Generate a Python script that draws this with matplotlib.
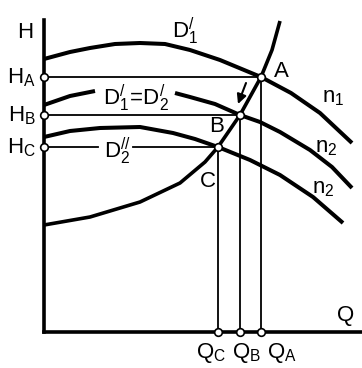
import numpy as np
import matplotlib.pyplot as plt

plt.rcParams['font.family'] = 'Liberation Sans'
plt.rcParams['mathtext.fontset'] = 'custom'
plt.rcParams['mathtext.rm'] = 'Liberation Sans'
plt.rcParams['mathtext.default'] = 'regular'

# pump curves H(Q): impeller D1' at n1, D1'=D2' at n2, D2'' at n2
q_n1 = [0.0, 2.6, 4.6, 7.1, 9.6, 12.1, 14.6, 17.6, 21.7, 24.7, 27.6, 30.8]
h_n1 = [27.3, 28.0, 28.4, 28.8, 28.9, 28.8, 28.2, 27.2, 25.5, 23.9, 21.9, 18.9]

q_mid = [0.0, 2.6, 5.1, 13.1, 14.6, 17.1, 19.6, 21.6, 23.6, 26.6, 28.8, 30.8]
h_mid = [22.7, 23.6, 24.1, 23.9, 23.5, 22.8, 21.7, 21.0, 20.0, 18.2, 16.5, 14.4]

q_low = [0.0, 2.6, 5.6, 9.6, 12.9, 15.1, 17.4, 20.6, 23.6, 26.9, 29.9]
h_low = [19.5, 20.1, 20.4, 20.5, 19.9, 19.3, 18.5, 17.2, 15.7, 13.5, 10.9]

# system curve
q_sys = [0.0, 4.6, 9.6, 13.6, 16.1, 17.4, 19.6, 21.7, 22.8, 23.6]
h_sys = [10.7, 11.5, 13.0, 14.9, 17.0, 18.5, 21.7, 25.5, 28.2, 31.1]

# operating points
pt_names = ['A', 'B', 'C']
pt_q = [21.7, 19.6, 17.4]
pt_h = [25.5, 21.7, 18.5]

fig = plt.figure(figsize=(3.62, 3.68), dpi=100)
ax = fig.add_axes([0, 0, 1, 1])
ax.set_xlim(-4.4, 31.8)
ax.set_ylim(-3.6, 33.2)
ax.set_xticks([])
ax.set_yticks([])
for s in ['top', 'right']:
    ax.spines[s].set_visible(False)
ax.spines['left'].set_position(('data', 0))
ax.spines['bottom'].set_position(('data', 0))
ax.spines['left'].set_bounds(0, 31.2)
ax.spines['bottom'].set_bounds(0, 31.8)
for s in ['left', 'bottom']:
    ax.spines[s].set_linewidth(2.6)
    ax.spines[s].set_capstyle('projecting')

thick = dict(color='black', lw=2.9, solid_capstyle='butt', solid_joinstyle='round', zorder=3)
thin = dict(color='black', lw=1.3, zorder=2)

ax.plot(q_n1, h_n1, **thick)
# the middle curve is broken where its label sits
ax.plot(q_mid[:3], h_mid[:3], **thick)
ax.plot(q_mid[3:], h_mid[3:], **thick)
ax.plot(q_low, h_low, **thick)
ax.plot(q_sys, h_sys, color='black', lw=2.6, solid_capstyle='butt', zorder=3)

# guide lines to the axes
for name, q, h in zip(pt_names, pt_q, pt_h):
    ax.plot([q, q], [0, h], **thin)
    if name == 'C':
        ax.plot([0, 5.4], [h, h], **thin)
        ax.plot([8.9, q], [h, h], **thin)
    else:
        ax.plot([0, q], [h, h], **thin)

mk = dict(marker='o', ms=5.5, mfc='white', mec='black', mew=1.2, ls='none', zorder=5)
ax.plot(pt_q, pt_h, **mk)
ax.plot([0] * 3, pt_h, **mk)
ax.plot(pt_q, [0] * 3, **mk)

fs = 16
ax.text(-2.7, 29.4, 'H', fontsize=fs, ha='left', va='baseline')
ax.text(29.3, 1.1, 'Q', fontsize=fs, ha='left', va='baseline')

for name, h in zip(pt_names, pt_h):
    ax.text(-0.8, h - 0.6, r'$H_{%s}$' % name, fontsize=fs, ha='right', va='baseline')
q_left = {'A': 22.3, 'B': 18.8, 'C': 15.2}
for name in pt_names:
    ax.text(q_left[name], -2.6, r'$Q_{%s}$' % name, fontsize=fs, ha='left', va='baseline')

ax.text(23.0, 25.5, 'A', fontsize=fs, ha='left', va='baseline')
ax.text(16.5, 20.0, 'B', fontsize=fs, ha='left', va='baseline')
ax.text(15.6, 14.5, 'C', fontsize=fs, ha='left', va='baseline')

ax.text(12.8, 29.4, r'$D_1^{/}$', fontsize=fs, ha='left', va='baseline')
ax.text(5.9, 22.7, r'$D_1^{/}\!=\!D_2^{/}$', fontsize=fs, ha='left', va='baseline')
ax.text(6.0, 17.4, r'$D_2^{//}$', fontsize=fs, ha='left', va='baseline')

ax.text(27.8, 23.0, r'$n_1$', fontsize=fs, ha='left', va='baseline')
ax.text(27.1, 18.0, r'$n_2$', fontsize=fs, ha='left', va='baseline')
ax.text(26.8, 13.9, r'$n_2$', fontsize=fs, ha='left', va='baseline')

ax.annotate('', xy=(19.4, 22.8), xytext=(20.2, 24.9),
            arrowprops=dict(arrowstyle='-|>', color='black', lw=1.5,
                            mutation_scale=14, shrinkA=0, shrinkB=0))

fig.savefig('out.png', dpi=100)
